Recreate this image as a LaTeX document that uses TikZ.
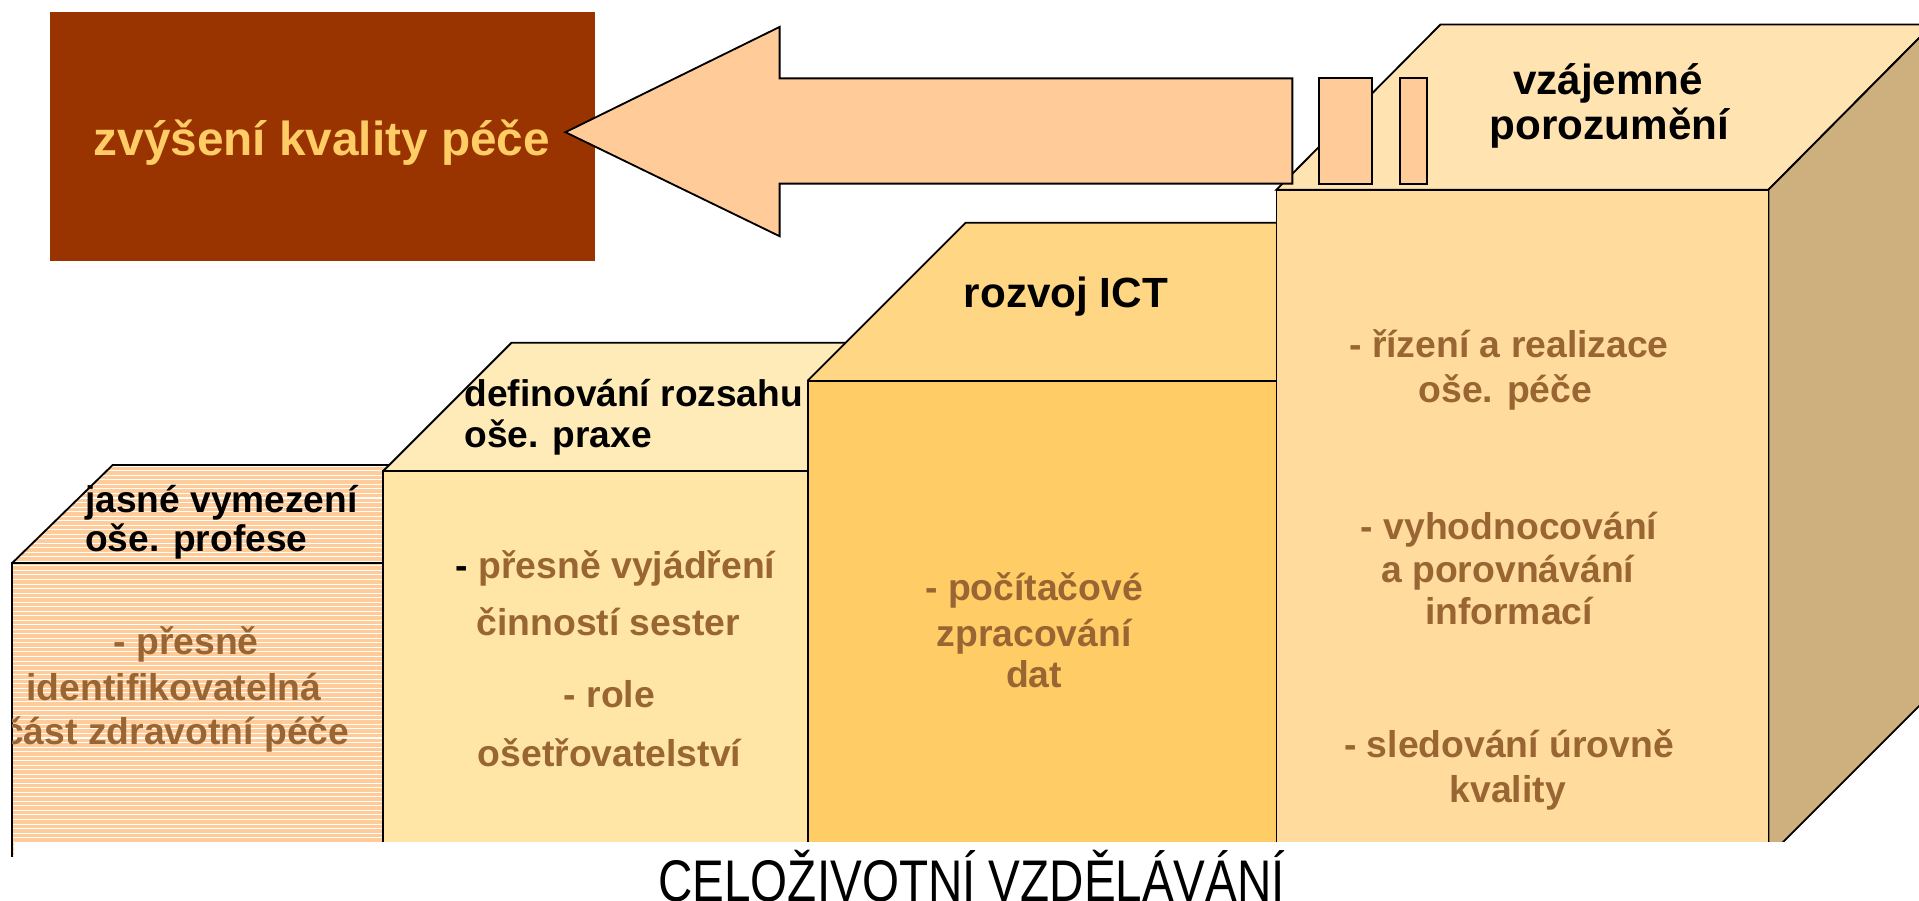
\documentclass[tikz,border=0pt]{standalone}
\usepackage{fontspec}
\setmainfont{Liberation Sans}
\definecolor{peach}{HTML}{FFCC99}
\definecolor{btwofront}{HTML}{FFE6A6}
\definecolor{btwotop}{HTML}{FFEBB8}
\definecolor{bthreefront}{HTML}{FFCC66}
\definecolor{bthreetop}{HTML}{FFD684}
\definecolor{bfourfront}{HTML}{FFDC9E}
\definecolor{bfourtop}{HTML}{FFE3B1}
\definecolor{bfourside}{HTML}{CDB07D}
\definecolor{bodybrown}{HTML}{996633}
\definecolor{boxbrown}{HTML}{993300}
\definecolor{boxtext}{HTML}{FFCC66}
\begin{document}
\begin{tikzpicture}[x=0.3pt,y=-0.3pt,
  edge/.style={draw=black,line width=0.45pt,line join=miter},
  ttl/.style={inner sep=0pt,anchor=base west,font=\bfseries\fontsize{9.1}{10}\selectfont},
  ttlbig/.style={inner sep=0pt,anchor=base,font=\bfseries\fontsize{10.35}{11}\selectfont},
  body/.style={inner sep=0pt,anchor=base,text=bodybrown,font=\bfseries\fontsize{9.15}{10}\selectfont},
  stripe/.style={draw=white,line width=0.25pt}
]
\useasboundingbox (0,0) rectangle (1568,736);

% ---------- block 1 ----------
\fill[peach] (10,700) -- (10,460) -- (92,380) -- (395,380) -- (313,460) -- (313,700) -- cycle;
\begin{scope}
  \clip (10,700) -- (10,460) -- (92,380) -- (395,380) -- (313,460) -- (313,700) -- cycle;
  \foreach \k in {0,...,90} \draw[stripe] (0,{381+\k*3.7}) -- (420,{381+\k*3.7});
\end{scope}
\draw[edge] (10,700) -- (10,460) -- (313,460) -- (313,700);
\draw[edge] (10,460) -- (92,380) -- (395,380) -- (313,460);

% ---------- block 2 ----------
\fill[btwotop] (313,385) -- (418,280) -- (765,280) -- (660,385) -- cycle;
\draw[edge] (313,385) -- (418,280) -- (765,280) -- (660,385);
\filldraw[fill=btwofront,edge] (313,385) rectangle (660,700);

% ---------- block 3 ----------
\fill[bthreetop] (660,311) -- (789,182) -- (1172,182) -- (1043,311) -- cycle;
\draw[edge] (660,311) -- (789,182) -- (1172,182) -- (1043,311);
\filldraw[fill=bthreefront,edge] (660,311) rectangle (1043,700);

% ---------- block 4 ----------
\filldraw[fill=bfourtop,edge] (1043,155) -- (1177,20) -- (1579,20) -- (1445,155) -- cycle;
\filldraw[fill=bfourside,edge] (1445,155) -- (1579,20) -- (1579,566) -- (1445,700) -- cycle;
\filldraw[fill=bfourfront,edge] (1043,155) rectangle (1445,700);

% ---------- white band at the bottom ----------
\fill[white] (11.2,688) rectangle (1580,745);

% ---------- brown box ----------
\fill[boxbrown] (41,10) rectangle (486,213);
\node[inner sep=0pt,anchor=base,text=boxtext,font=\bfseries\fontsize{11.7}{13}\selectfont] (goal) at (263,127) {zvýšení kvality péče};

% ---------- arrow ----------
\filldraw[fill=peach,edge] (462,108) -- (637,22) -- (637,64) -- (1056,64) -- (1056,150) -- (637,150) -- (637,193) -- cycle;
\filldraw[fill=peach,edge] (1078,64) rectangle (1121,150);
\filldraw[fill=peach,edge] (1144,64) rectangle (1166,150);

% ---------- titles ----------
\node[ttl] (t1a) at (69,419) {jasné vymezení};
\node[ttl] (t1b) at (69,451) {oše. profese};
\node[ttl] (t2a) at (379,332) {definování rozsahu};
\node[ttl] (t2b) at (379,366) {oše. praxe};
\node[ttlbig] (t3) at (871,251) {rozvoj ICT};
\node[ttlbig] (t4a) at (1314,77) {vzájemné};
\node[ttlbig] (t4b) at (1315,114) {porozumění};

% ---------- body texts ----------
\begin{scope}
  \clip (10,460) rectangle (313,700);
  \node[body] (p1a) at (152,535) {- přesně};
  \node[body] (p1b) at (142,572) {identifikovatelná};
  \node[body] (p1c) at (144,608) {část zdravotní péče};
\end{scope}
\node[body] (p2a) at (503,473) {{\color{black}-} přesně vyjádření};
\node[body] (p2b) at (497,519) {činností sester};
\node[body] (p2c) at (498,578) {- role};
\node[body] (p2d) at (498,626) {ošetřovatelství};
\node[body] (p3a) at (845,491) {- počítačové};
\node[body] (p3b) at (845,528) {zpracování};
\node[body] (p3c) at (845,562) {dat};
\node[body] (p4a) at (1233,292) {- řízení a realizace};
\node[body] (p4b) at (1230,329) {oše. péče};
\node[body] (p4c) at (1233,441) {- vyhodnocování};
\node[body] (p4d) at (1232,476) {a porovnávání};
\node[body] (p4e) at (1233,510) {informací};
\node[body] (p4f) at (1233,619) {- sledování úrovně};
\node[body] (p4g) at (1232,656) {kvality};

% ---------- bottom caption ----------
\node[inner sep=0pt,anchor=base,font=\fontsize{14.4}{16}\selectfont,xscale=0.81] (life) at (794,737) {CELOŽIVOTNÍ VZDĚLÁVÁNÍ};
\end{tikzpicture}
\end{document}
